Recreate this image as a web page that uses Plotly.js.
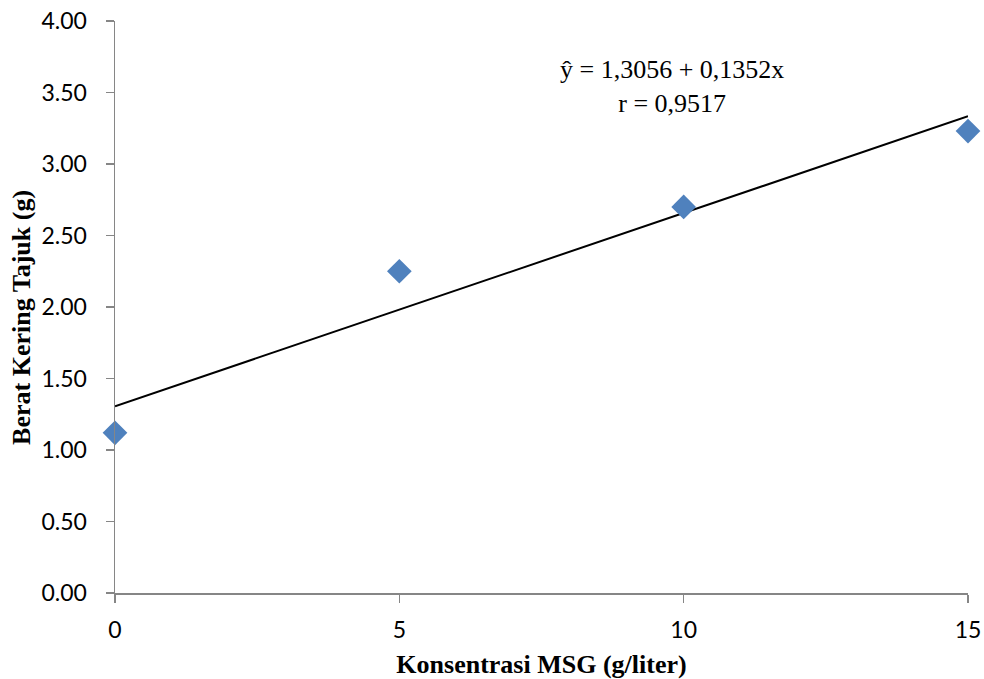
<!DOCTYPE html>
<html>
<head>
<meta charset="utf-8">
<script src="https://cdn.plot.ly/plotly-3.0.1.min.js"></script>
<style>html,body{margin:0;padding:0;background:#fff;}#chart{width:984px;height:679px;}</style>
</head>
<body>
<div id="chart"></div>
<script>
const xValues = [0, 5, 10, 15];
const yValues = [1.12, 2.25, 2.70, 3.23];
const trendX = [0, 15];
const trendY = [1.3056, 3.3336];
const yTickVals = [0, 0.5, 1, 1.5, 2, 2.5, 3, 3.5, 4];
const yTickText = ["0.00","0.50","1.00","1.50","2.00","2.50","3.00","3.50","4.00"];
const xTickVals = [0, 5, 10, 15];
const xTitle = "Konsentrasi MSG (g/liter)";
const yTitle = "Berat Kering Tajuk (g)";
const equationLines = ["ŷ = 1,3056 + 0,1352x", "r = 0,9517"];

const traces = [
  {x: trendX, y: trendY, mode: 'lines', line: {color: '#000', width: 2}, hoverinfo: 'skip', showlegend: false},
  {x: xValues, y: yValues, mode: 'markers', marker: {symbol: 'diamond', size: 19, color: '#4F81BD', line: {width: 0}}, showlegend: false, cliponaxis: false}
];

const layout = {
  width: 984, height: 679,
  margin: {l: 115, r: 16, t: 21, b: 86},
  paper_bgcolor: '#fff', plot_bgcolor: '#fff',
  showlegend: false,
  xaxis: {
    range: [0, 15], tickvals: xTickVals, ticks: 'outside', ticklen: 8, tickcolor: '#868686', tickwidth: 1.5,
    showline: true, linecolor: '#868686', linewidth: 1.5, showgrid: false, zeroline: false,
    ticklabelstandoff: 8,
    tickfont: {family: 'Lato, Carlito, sans-serif', size: 23, color: '#000'},
    title: {text: '<b>' + xTitle + '</b>', font: {family: 'Liberation Serif, serif', size: 26, color: '#000'}, standoff: 12},
    fixedrange: true
  },
  yaxis: {
    range: [0, 4], tickvals: yTickVals, ticktext: yTickText, ticks: 'outside', ticklen: 8, tickcolor: '#868686', tickwidth: 1.5,
    showline: true, linecolor: '#868686', linewidth: 1.5, showgrid: false, zeroline: false,
    ticklabelstandoff: 14,
    tickfont: {family: 'Lato, Carlito, sans-serif', size: 23, color: '#000'},
    fixedrange: true
  },
  annotations: [
    {text: '<b>' + yTitle + '</b>', xref: 'paper', yref: 'paper', x: -0.109, y: 0.481, xanchor: 'center', yanchor: 'middle',
     textangle: -90, showarrow: false, font: {family: 'Liberation Serif, serif', size: 26, color: '#000'}},
    {text: equationLines.join('<br>'), xref: 'x', yref: 'y', x: 9.8, y: 3.545, xanchor: 'center', yanchor: 'middle',
     align: 'center', showarrow: false, font: {family: 'Liberation Serif, serif', size: 26, color: '#000'}}
  ]
};

Plotly.newPlot('chart', traces, layout, {displayModeBar: false, staticPlot: true});
</script>
</body>
</html>
